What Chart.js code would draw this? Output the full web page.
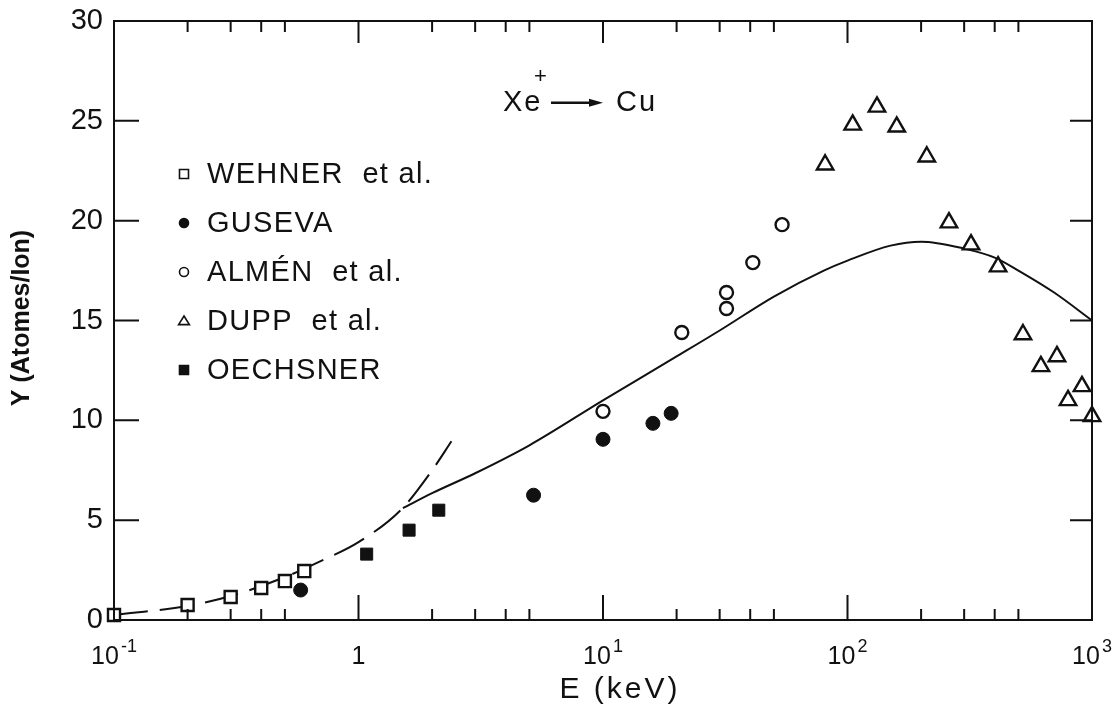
<!DOCTYPE html>
<html lang="en">
<head>
<meta charset="UTF-8">
<title>Xe+ on Cu sputtering yield</title>
<script src="https://cdn.jsdelivr.net/npm/chart.js@4.4.1/dist/chart.umd.min.js"></script>
<style>
  body { margin: 0; background: #fff; }
  #wrap { width: 1120px; height: 704px; }
</style>
</head>
<body>
<div id="wrap"><canvas id="yieldChart"></canvas></div>
<script>
// E in keV, Y in atoms/ion
const wehnerE = [0.1, 0.2, 0.3, 0.4, 0.5, 0.6];
const wehnerY = [0.25, 0.75, 1.15, 1.6, 1.95, 2.45];
const gusevaE = [0.58, 5.2, 10, 16, 19];
const gusevaY = [1.5, 6.25, 9.05, 9.85, 10.35];
const almenE = [10, 21, 32, 32, 41, 54];
const almenY = [10.45, 14.4, 15.6, 16.4, 17.9, 19.8];
const duppE = [81, 105, 132, 159, 211, 260, 320, 413, 522, 618, 719, 798, 910, 1000];
const duppY = [22.8, 24.8, 25.7, 24.7, 23.2, 19.9, 18.8, 17.7, 14.3, 12.7, 13.2, 11.0, 11.7, 10.2];
const oechsnerE = [1.08, 1.61, 2.13];
const oechsnerY = [3.3, 4.5, 5.5];

// theory curves (solid = high energy, dashed = low energy)
const theoryE = [1.52, 2, 3, 5, 10, 20, 30, 50, 80, 100, 150, 200, 300, 400, 500, 700, 1000];
const theoryY = [5.6, 6.35, 7.35, 8.75, 11.0, 13.2, 14.5, 16.2, 17.5, 18.0, 18.75, 18.95, 18.6, 18.15, 17.5, 16.4, 15.0];
const lowE = [0.1, 0.2, 0.3, 0.5, 0.7, 1.0, 1.5, 2.0, 2.4];
const lowY = [0.25, 0.7, 1.2, 2.15, 2.95, 3.9, 5.55, 7.5, 8.95];

const xTicks = [0.1, 1, 10, 100, 1000];
const xTickBase = ['10', '1', '10', '10', '10'];
const xTickExp = ['-1', '', '1', '2', '3'];
const xMinor = [2, 3, 4, 5];
const yTicks = [0, 5, 10, 15, 20, 25, 30];

const legendItems = [
  { text: 'WEHNER  et al.', style: 'rect', fill: false },
  { text: 'GUSEVA', style: 'circle', fill: true },
  { text: 'ALMÉN  et al.', style: 'circle', fill: false },
  { text: 'DUPP  et al.', style: 'triangle', fill: false },
  { text: 'OECHSNER', style: 'rect', fill: true }
];

const INK = '#111';
const FONT = "'Liberation Sans', Arial, sans-serif";

const pts = (xs, ys) => xs.map((x, i) => ({ x, y: ys[i] }));

function marker(ctx, style, x, y, s, fill) {
  ctx.beginPath();
  if (style === 'rect') {
    ctx.rect(x - s, y - s, 2 * s, 2 * s);
  } else if (style === 'circle') {
    ctx.arc(x, y, s, 0, Math.PI * 2);
  } else {
    ctx.moveTo(x, y - s * 1.1);
    ctx.lineTo(x + s * 1.2, y + s * 0.8);
    ctx.lineTo(x - s * 1.2, y + s * 0.8);
    ctx.closePath();
  }
  if (fill) { ctx.fillStyle = INK; ctx.fill(); }
  ctx.stroke();
}

const decorations = {
  id: 'decorations',
  afterDatasetsDraw(chart) {
    const { ctx, chartArea: a, scales: { x, y } } = chart;
    ctx.save();
    ctx.strokeStyle = INK;
    ctx.lineWidth = 2;
    ctx.strokeRect(a.left, a.top, a.right - a.left, a.bottom - a.top);

    // inward ticks, top and bottom
    ctx.beginPath();
    xTicks.forEach(d => {
      const px = x.getPixelForValue(d);
      ctx.moveTo(px, a.bottom); ctx.lineTo(px, a.bottom - 25);
      ctx.moveTo(px, a.top); ctx.lineTo(px, a.top + 22);
      xMinor.forEach(m => {
        if (d * m > 1000) return;
        const mx = x.getPixelForValue(d * m);
        ctx.moveTo(mx, a.bottom); ctx.lineTo(mx, a.bottom - 11);
        ctx.moveTo(mx, a.top); ctx.lineTo(mx, a.top + 11);
      });
    });
    // inward ticks, left and right
    yTicks.forEach(v => {
      const py = y.getPixelForValue(v);
      ctx.moveTo(a.left, py); ctx.lineTo(a.left + 25, py);
      ctx.moveTo(a.right, py); ctx.lineTo(a.right - 22, py);
    });
    ctx.stroke();
    ctx.restore();
  },
  afterDraw(chart) {
    const { ctx, chartArea: a, scales: { x, y } } = chart;
    ctx.save();
    ctx.fillStyle = INK;
    ctx.strokeStyle = INK;

    // decade labels with raised exponents
    ctx.textBaseline = 'alphabetic';
    xTicks.forEach((v, i) => {
      const px = x.getPixelForValue(v);
      ctx.font = '25px ' + FONT;
      const wb = ctx.measureText(xTickBase[i]).width;
      ctx.font = '18px ' + FONT;
      const we = xTickExp[i] ? ctx.measureText(xTickExp[i]).width + 2 : 0;
      const x0 = px - (wb + we) / 2;
      ctx.font = '25px ' + FONT;
      ctx.fillText(xTickBase[i], x0, a.bottom + 44);
      if (xTickExp[i]) {
        ctx.font = '18px ' + FONT;
        ctx.fillText(xTickExp[i], x0 + wb + 2, a.bottom + 32);
      }
    });

    // legend box inside the plot
    ctx.lineWidth = 1.6;
    ctx.font = '29px ' + FONT;
    ctx.letterSpacing = '1.3px';
    ctx.textBaseline = 'middle';
    legendItems.forEach((it, i) => {
      const ly = a.top + 153 + i * 49;
      marker(ctx, it.style, a.left + 70, ly, 4.5, it.fill);
      ctx.fillText(it.text, a.left + 93, ly + 1);
    });

    // reaction label
    const nx = x.getPixelForValue(3.9);
    const ny = y.getPixelForValue(25.9);
    ctx.font = '29px ' + FONT;
    ctx.letterSpacing = '2px';
    ctx.fillText('Xe', nx, ny);
    ctx.font = '22px ' + FONT;
    ctx.fillText('+', nx + 31, ny - 26);
    ctx.lineWidth = 2.5;
    ctx.beginPath();
    ctx.moveTo(nx + 48, ny); ctx.lineTo(nx + 90, ny);
    ctx.stroke();
    ctx.beginPath();
    ctx.moveTo(nx + 100, ny); ctx.lineTo(nx + 86, ny - 4); ctx.lineTo(nx + 86, ny + 4);
    ctx.closePath(); ctx.fill();
    ctx.font = '29px ' + FONT;
    ctx.fillText('Cu', nx + 113, ny);

    // axis titles
    ctx.textAlign = 'center';
    ctx.font = '30px ' + FONT;
    ctx.letterSpacing = '3px';
    ctx.fillText('E (keV)', 620, 690);
    ctx.letterSpacing = '0px';
    ctx.translate(22, 318);
    ctx.rotate(-Math.PI / 2);
    ctx.font = 'bold 25px ' + FONT;
    ctx.fillText('Y (Atomes/Ion)', 0, 0);
    ctx.restore();
  }
};

const hollow = { borderColor: INK, backgroundColor: '#fff', borderWidth: 2.4 };
const solid = { borderColor: INK, backgroundColor: INK, borderWidth: 1 };

new Chart(document.getElementById('yieldChart'), {
  type: 'scatter',
  data: {
    datasets: [
      { label: 'WEHNER et al.', data: pts(wehnerE, wehnerY), pointStyle: 'rect', pointRadius: 8.5, ...hollow },
      { label: 'GUSEVA', data: pts(gusevaE, gusevaY), pointStyle: 'circle', pointRadius: 7, ...solid },
      { label: 'ALMÉN et al.', data: pts(almenE, almenY), pointStyle: 'circle', pointRadius: 6.5, ...hollow },
      { label: 'DUPP et al.', data: pts(duppE, duppY), pointStyle: 'triangle', pointRadius: 9.5, ...hollow },
      { label: 'OECHSNER', data: pts(oechsnerE, oechsnerY), pointStyle: 'rect', pointRadius: 8.5, ...solid },
      { label: 'theory', data: pts(theoryE, theoryY), showLine: true, pointRadius: 0,
        borderColor: INK, borderWidth: 2, cubicInterpolationMode: 'monotone' },
      { label: 'low energy', data: pts(lowE, lowY), showLine: true, pointRadius: 0,
        borderColor: INK, borderWidth: 2, borderDash: [34, 12], cubicInterpolationMode: 'monotone' }
    ]
  },
  options: {
    responsive: true,
    maintainAspectRatio: false,
    animation: false,
    clip: false,
    layout: { padding: { top: 21, right: 28, left: 0, bottom: 0 } },
    plugins: { legend: { display: false }, tooltip: { enabled: false } },
    scales: {
      x: {
        type: 'logarithmic',
        min: 0.1,
        max: 1000,
        afterBuildTicks: s => { s.ticks = xTicks.map(v => ({ value: v })); },
        afterFit: s => { s.height = 84; s.paddingLeft = 0; s.paddingRight = 0; },
        grid: { display: false, drawTicks: false },
        border: { display: false },
        ticks: { display: false }
      },
      y: {
        min: 0,
        max: 30,
        afterBuildTicks: s => { s.ticks = yTicks.map(v => ({ value: v })); },
        afterFit: s => { s.width = 114; s.paddingTop = 0; s.paddingBottom = 0; },
        grid: { display: false, drawTicks: false },
        border: { display: false },
        ticks: { color: INK, padding: 11, font: { family: FONT, size: 29 } }
      }
    }
  },
  plugins: [decorations]
});
</script>
</body>
</html>
